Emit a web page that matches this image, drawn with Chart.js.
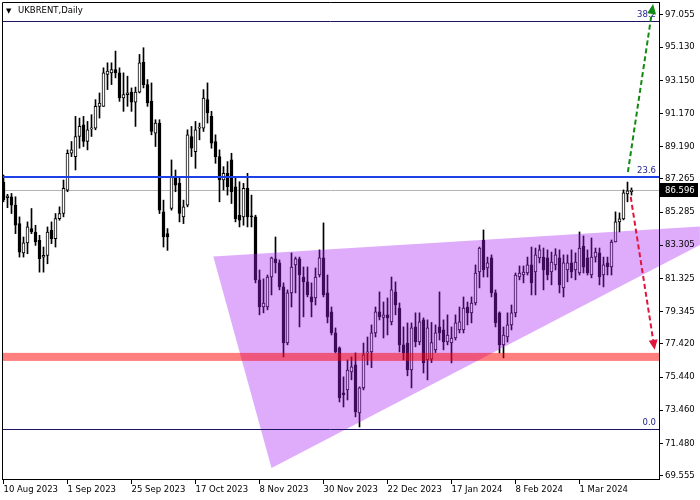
<!DOCTYPE html>
<html lang="en">
<head>
    <meta charset="UTF-8">
    <title>UKBRENT, Daily</title>
    <script src="https://cdn.jsdelivr.net/npm/chart.js"></script>
    <style>
        html, body { margin: 0; padding: 0; background: #ffffff; }
        canvas { display: block; }
    </style>
</head>
<body>
    <canvas id="brentChart" width="700" height="500"></canvas>
    <script>
        // daily candles, 10 Aug 2023 .. mid Mar 2024
        const opens = [
            87.08, 86.15, 86.2, 85.7, 84.6, 82.85, 83.45, 84.3, 84.1, 83.6,
            82.6, 82.7, 84.2, 83.7, 84.9, 85.2, 86.6, 88.8, 88.6, 89.8,
            90.5, 89.5, 90.25, 90.3, 91.6, 91.6, 93.5, 93.6, 93.8, 93.6,
            92.1, 92.3, 92.45, 91.85, 92.45, 94.25, 92.9, 91.9, 90.0, 90.6,
            85.3, 84.0, 85.5, 87.3, 87.0, 85.0, 85.7, 89.8, 88.9, 90.3,
            90.3, 92.0, 91.0, 89.5, 88.6, 87.2, 87.6, 88.4, 86.8, 85.1,
            85.0, 86.7, 85.05, 85.0, 81.24, 79.62, 79.62, 81.41, 82.49, 82.25,
            80.82, 77.47, 80.46, 82.13, 82.49, 81.41, 81.12, 80.22, 80.16, 81.53,
            82.55, 80.46, 79.33, 78.07, 77.18, 74.49, 74.67, 75.75, 76.16, 73.3,
            74.79, 76.88, 76.94, 78.07, 79.33, 79.0, 79.15, 78.73, 80.52, 79.56,
            77.36, 77.47, 75.86, 78.43, 77.53, 78.85, 76.46, 76.5, 77.06, 78.43,
            78.25, 77.53, 77.47, 77.77, 78.25, 78.25, 79.62, 79.27, 79.86, 81.71,
            83.62, 81.95, 82.55, 80.46, 79.27, 77.36, 77.83, 78.55, 79.27, 81.41,
            81.53, 81.65, 82.13, 81.71, 82.55, 82.6, 82.55, 81.71, 82.13, 82.55,
            80.76, 81.83, 82.25, 81.83, 81.65, 83.26, 82.55, 81.53, 82.6, 82.85,
            81.53, 82.25, 82.01, 83.5, 84.7, 84.88, 86.37, 86.5
        ];
        const highs = [
            87.5, 86.35, 86.4, 86.2, 85.0, 83.8, 84.7, 85.5, 84.5, 83.9,
            83.2, 84.4, 84.7, 85.2, 85.6, 87.2, 89.0, 89.5, 91.0, 90.9,
            91.0, 90.7, 91.1, 92.0, 92.4, 93.9, 94.2, 94.2, 94.9, 93.9,
            93.6, 93.4, 92.7, 92.75, 94.7, 95.1, 93.2, 93.0, 90.8, 90.8,
            86.0, 84.3, 88.4, 87.8, 87.4, 86.0, 90.2, 90.4, 90.7, 90.6,
            92.6, 93.0, 91.3, 89.9, 89.0, 88.0, 88.3, 88.8, 87.4, 87.1,
            87.0, 87.6, 86.3, 85.1, 81.83, 81.3, 81.53, 82.6, 83.8, 82.43,
            81.06, 80.64, 82.85, 82.6, 82.6, 82.01, 82.01, 81.06, 81.95, 83.03,
            84.64, 81.53, 79.62, 78.37, 77.24, 75.45, 76.46, 76.64, 76.88, 74.85,
            77.47, 77.83, 78.55, 79.62, 80.52, 79.92, 80.16, 81.41, 81.12, 79.86,
            78.43, 78.67, 78.67, 79.27, 79.27, 78.97, 78.85, 78.7, 78.55, 80.52,
            78.85, 79.15, 78.43, 79.15, 79.62, 80.22, 79.92, 80.22, 82.13, 83.2,
            84.22, 82.6, 82.73, 80.64, 79.33, 78.43, 79.27, 79.74, 81.65, 82.07,
            82.07, 82.6, 83.2, 83.14, 83.32, 83.14, 83.03, 82.9, 83.1, 83.03,
            82.73, 82.73, 83.03, 82.85, 84.1, 83.86, 83.03, 83.74, 83.14, 83.14,
            82.6, 82.6, 83.62, 85.3, 85.24, 86.61, 87.08, 86.73
        ];
        const lows = [
            85.9, 85.55, 85.2, 84.0, 82.6, 82.6, 82.8, 84.0, 83.3, 81.7,
            81.7, 82.2, 83.4, 83.2, 84.8, 85.0, 86.5, 88.6, 87.8, 89.1,
            89.2, 89.0, 89.8, 90.2, 90.9, 91.6, 92.6, 92.9, 93.3, 91.9,
            91.3, 91.6, 91.3, 90.4, 92.4, 92.7, 91.6, 89.9, 89.2, 85.2,
            83.2, 83.0, 85.4, 86.5, 84.7, 84.6, 85.6, 88.6, 87.9, 89.6,
            90.1, 90.6, 89.1, 88.2, 85.9, 86.6, 86.3, 85.8, 84.7, 84.4,
            84.5, 84.4, 84.4, 81.06, 79.15, 79.27, 79.45, 80.34, 81.65, 80.64,
            76.64, 77.36, 79.62, 80.46, 78.43, 79.03, 80.22, 79.03, 79.74, 81.41,
            80.22, 78.67, 77.95, 76.88, 73.95, 73.65, 74.07, 75.27, 73.06, 72.46,
            74.67, 76.16, 76.0, 77.83, 78.85, 77.77, 77.95, 78.55, 79.15, 76.94,
            76.46, 75.51, 74.79, 77.24, 77.36, 75.68, 75.27, 76.3, 76.9, 77.65,
            77.06, 77.36, 76.28, 77.65, 78.07, 78.07, 78.55, 78.67, 79.74, 80.76,
            81.41, 81.41, 80.22, 78.43, 76.88, 76.58, 77.53, 78.25, 79.03, 81.24,
            81.06, 81.53, 80.34, 80.34, 82.25, 80.64, 81.24, 80.94, 81.83, 80.46,
            80.22, 81.12, 81.36, 81.24, 81.53, 81.65, 81.53, 81.36, 82.3, 80.94,
            80.82, 81.53, 81.53, 83.5, 84.1, 84.82, 85.9, 86.3
        ];
        const closes = [
            86.01, 86.25, 85.7, 84.5, 82.9, 83.45, 84.4, 84.1, 83.5, 82.5,
            82.7, 84.1, 83.7, 84.9, 85.2, 86.7, 88.8, 89.0, 89.8, 90.4,
            89.5, 90.2, 90.3, 91.6, 91.8, 93.6, 93.7, 93.8, 93.6, 92.1,
            92.3, 92.4, 91.85, 92.45, 94.2, 92.9, 91.8, 90.1, 90.6, 85.4,
            83.8, 83.8, 87.4, 86.9, 85.2, 85.6, 89.9, 89.1, 90.2, 90.35,
            92.1, 91.2, 89.4, 88.6, 87.2, 87.6, 86.8, 86.5, 84.9, 84.8,
            86.7, 85.0, 85.0, 81.24, 79.62, 79.86, 81.41, 82.55, 82.25, 80.82,
            77.47, 80.46, 82.01, 82.49, 81.53, 81.12, 80.34, 79.92, 81.41, 82.55,
            80.34, 79.03, 78.07, 76.94, 74.19, 74.37, 75.86, 76.04, 73.36, 74.79,
            76.76, 76.94, 78.07, 79.33, 79.03, 79.15, 78.97, 80.64, 79.74, 77.36,
            76.88, 75.86, 78.37, 77.53, 78.73, 76.28, 78.37, 77.5, 78.07, 78.07,
            77.53, 77.95, 77.77, 78.67, 78.73, 79.56, 79.27, 79.86, 81.65, 83.14,
            81.83, 82.25, 80.46, 78.67, 77.36, 77.95, 78.55, 79.27, 81.53, 81.65,
            81.71, 82.13, 81.06, 82.73, 83.03, 81.83, 81.53, 82.3, 82.73, 80.94,
            82.25, 82.25, 81.71, 82.3, 83.14, 82.0, 81.65, 82.6, 82.9, 81.41,
            82.13, 82.01, 83.5, 84.7, 84.88, 86.43, 86.55, 86.6
        ];
        const barIndex = opens.map((_, i) => i);

        const xTickPos = [0, 16, 32, 48, 64, 80, 96, 112, 128, 144];
        const xTickLabels = ["10 Aug 2023", "1 Sep 2023", "25 Sep 2023", "17 Oct 2023", "8 Nov 2023",
            "30 Nov 2023", "22 Dec 2023", "17 Jan 2024", "8 Feb 2024", "1 Mar 2024"];
        const yTicks = [97.055, 95.130, 93.150, 91.170, 89.190, 87.265, 85.285, 83.305,
            81.325, 79.345, 77.420, 75.440, 73.460, 71.480, 69.555];

        // Fibonacci levels, current price, support zone
        const fibLabels = ["0.0", "23.6", "38.2"];
        const fibPrices = [72.34, 87.38, 96.70];
        const lastPrice = 86.596;
        const supportZone = [76.40, 76.88];
        // triangle (bar index, price)
        const triX = [52.45, 174.1, 174.1, 67.0];
        const triY = [82.63, 84.42, 83.32, 70.0];
        // forecast arrows: [fromX, fromY, toX, toY]
        const upArrow = [156.1, 87.68, 162.4, 97.71];
        const downArrow = [156.8, 86.19, 162.8, 77.06];

        const FONT = '8.5px "DejaVu Sans"';

        function trianglePath(ctx, x, y) {
            ctx.beginPath();
            triX.forEach((v, i) => {
                const px = x.getPixelForValue(v), py = y.getPixelForValue(triY[i]);
                if (i === 0) ctx.moveTo(px, py); else ctx.lineTo(px, py);
            });
            ctx.closePath();
        }

        function drawArrow(ctx, x, y, a, color) {
            const x0 = x.getPixelForValue(a[0]), y0 = y.getPixelForValue(a[1]);
            const x1 = x.getPixelForValue(a[2]), y1 = y.getPixelForValue(a[3]);
            const ang = Math.atan2(y1 - y0, x1 - x0);
            const head = 10, hw = 4.5;
            const bx = x1 - head * Math.cos(ang), by = y1 - head * Math.sin(ang);
            ctx.strokeStyle = color;
            ctx.lineWidth = 2;
            ctx.setLineDash([5, 3]);
            ctx.beginPath();
            ctx.moveTo(x0, y0);
            ctx.lineTo(bx, by);
            ctx.stroke();
            ctx.setLineDash([]);
            ctx.fillStyle = color;
            ctx.beginPath();
            ctx.moveTo(x1, y1);
            ctx.lineTo(bx + hw * Math.sin(ang), by - hw * Math.cos(ang));
            ctx.lineTo(bx - hw * Math.sin(ang), by + hw * Math.cos(ang));
            ctx.closePath();
            ctx.fill();
        }

        function hLine(ctx, a, py, color, w) {
            ctx.strokeStyle = color;
            ctx.lineWidth = w;
            ctx.beginPath();
            ctx.moveTo(a.left, py);
            ctx.lineTo(a.right, py);
            ctx.stroke();
        }

        const overlay = {
            id: 'overlay',
            beforeDraw(chart) {
                const { ctx, width, height, chartArea: a, scales: { x, y } } = chart;
                ctx.save();
                ctx.fillStyle = '#ffffff';
                ctx.fillRect(0, 0, width, height);
                // part of the triangle that runs under the price scale
                ctx.beginPath();
                ctx.rect(a.right, 0, width - a.right, a.bottom);
                ctx.clip();
                trianglePath(ctx, x, y);
                ctx.fillStyle = 'rgb(222,172,251)';
                ctx.fill();
                ctx.restore();
            },
            beforeDatasetsDraw(chart) {
                const { ctx, chartArea: a, scales: { y } } = chart;
                ctx.save();
                hLine(ctx, a, Math.round(y.getPixelForValue(lastPrice)) + 0.5, '#b4b4b4', 1);
                ctx.restore();
            },
            afterDatasetsDraw(chart) {
                const { ctx, width, chartArea: a, scales: { x, y } } = chart;
                ctx.save();
                ctx.beginPath();
                ctx.rect(a.left, a.top, a.right - a.left, a.bottom - a.top);
                ctx.clip();

                trianglePath(ctx, x, y);
                ctx.fillStyle = 'rgba(165,30,245,0.37)';
                ctx.fill();

                const z0 = y.getPixelForValue(supportZone[1]), z1 = y.getPixelForValue(supportZone[0]);
                ctx.fillStyle = 'rgba(255,0,0,0.5)';
                ctx.fillRect(a.left, z0, a.right - a.left, z1 - z0);

                // fibo levels
                ctx.font = FONT;
                ctx.textAlign = 'right';
                ctx.textBaseline = 'bottom';
                fibPrices.forEach((p, i) => {
                    const py = Math.round(y.getPixelForValue(p));
                    if (fibLabels[i] === '23.6') hLine(ctx, a, py, '#1e40e6', 2);
                    else hLine(ctx, a, py + 0.5, '#1c1464', 1);
                    ctx.fillStyle = '#1e1e8c';
                    ctx.fillText(fibLabels[i], a.right - 3, py - 2);
                });

                drawArrow(ctx, x, y, upArrow, '#108a10');
                drawArrow(ctx, x, y, downArrow, '#e0143c');
                ctx.restore();

                // frame
                ctx.save();
                ctx.strokeStyle = '#000';
                ctx.lineWidth = 1;
                ctx.beginPath();
                ctx.moveTo(a.left + 0.5, a.bottom);
                ctx.lineTo(a.left + 0.5, a.top + 0.5);
                ctx.lineTo(a.right, a.top + 0.5);
                ctx.stroke();

                // current price tag
                const py = y.getPixelForValue(lastPrice);
                ctx.fillStyle = '#000';
                ctx.fillRect(a.right + 1, Math.round(py) - 7, width - a.right - 3, 14);
                ctx.fillStyle = '#fff';
                ctx.font = FONT;
                ctx.textAlign = 'left';
                ctx.textBaseline = 'middle';
                ctx.fillText(lastPrice.toFixed(3), a.right + 6, Math.round(py) + 0.5);

                // symbol caption
                ctx.fillStyle = '#000';
                ctx.font = '7px "DejaVu Sans"';
                ctx.fillText('▼', a.left + 4, a.top + 9);
                ctx.font = FONT;
                ctx.fillText('UKBRENT,Daily', a.left + 16, a.top + 9);
                ctx.restore();
            }
        };

        new Chart(document.getElementById('brentChart'), {
            type: 'bar',
            data: {
                datasets: [{
                    label: 'body',
                    data: barIndex.map(i => ({ x: i, y: [opens[i], closes[i]] })),
                    backgroundColor: barIndex.map(i => closes[i] >= opens[i] ? '#ffffff' : '#000000'),
                    borderColor: '#000000',
                    borderWidth: 1,
                    borderSkipped: false,
                    barThickness: 3,
                    minBarLength: 1,
                    grouped: false
                }, {
                    label: 'wick',
                    data: barIndex.map(i => ({ x: i, y: [lows[i], highs[i]] })),
                    backgroundColor: '#000000',
                    borderWidth: 0,
                    barThickness: 1,
                    grouped: false
                }]
            },
            options: {
                responsive: false,
                animation: false,
                layout: { padding: { left: 2, top: 2, right: 0, bottom: 0 } },
                plugins: { legend: { display: false }, tooltip: { enabled: false } },
                scales: {
                    x: {
                        type: 'linear',
                        min: -0.375,
                        max: 163.875,
                        offset: false,
                        grid: { display: true, drawOnChartArea: false, drawTicks: true, tickLength: 5, color: '#000', offset: false },
                        border: { display: true, color: '#000' },
                        ticks: {
                            autoSkip: false, maxRotation: 0, align: 'start', padding: 1,
                            color: '#000', font: { family: 'DejaVu Sans', size: 8.5 },
                            callback: v => xTickLabels[xTickPos.indexOf(v)]
                        },
                        afterBuildTicks: s => { s.ticks = xTickPos.map(v => ({ value: v })); },
                        afterFit: s => { s.height = 21; s.paddingLeft = 0; s.paddingRight = 0; }
                    },
                    y: {
                        position: 'right',
                        min: 69.35,
                        max: 97.83,
                        grid: { display: true, drawOnChartArea: false, drawTicks: true, tickLength: 4, color: '#000' },
                        border: { display: true, color: '#000' },
                        ticks: {
                            padding: 2, color: '#000', font: { family: 'DejaVu Sans', size: 8.5 },
                            callback: v => v.toFixed(3)
                        },
                        afterBuildTicks: s => { s.ticks = yTicks.map(v => ({ value: v })); },
                        afterFit: s => { s.width = 41; s.paddingTop = 0; s.paddingBottom = 0; }
                    }
                }
            },
            plugins: [overlay]
        });
    </script>
</body>
</html>
